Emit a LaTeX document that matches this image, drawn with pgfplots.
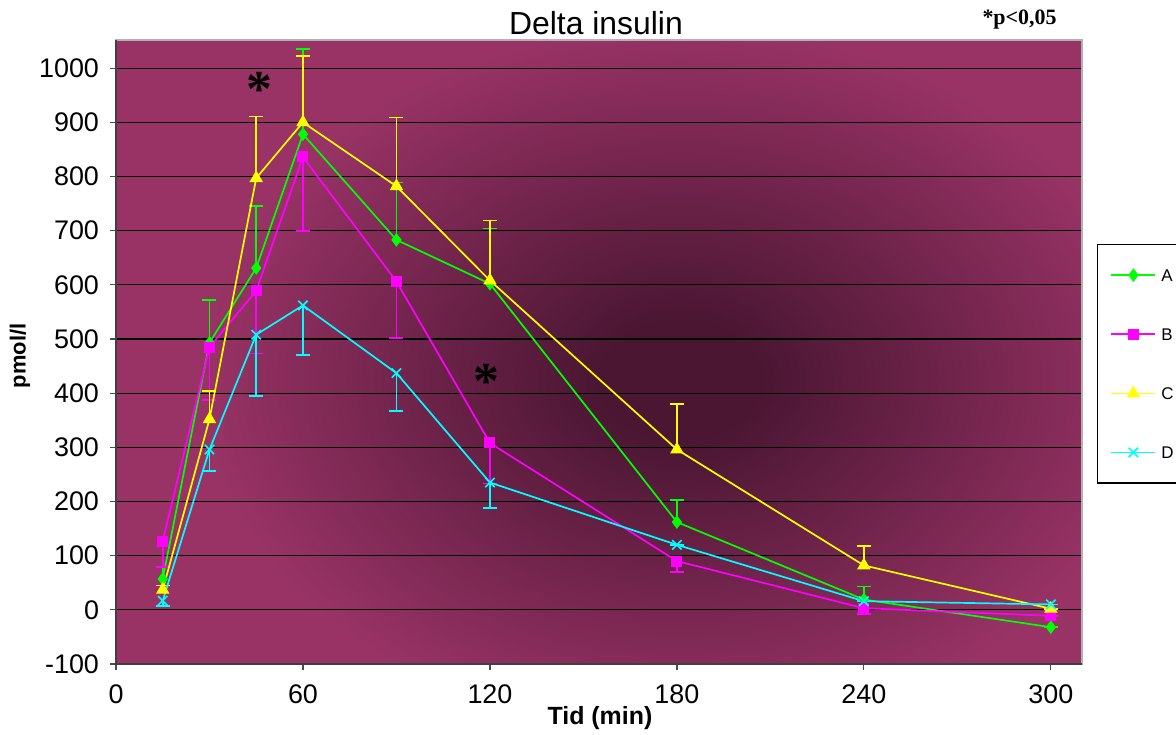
\documentclass[border=0pt]{standalone}
\usepackage{fontspec}
\setmainfont{Liberation Sans}
\newfontfamily\timesfont{Liberation Serif}
\usepackage{pgfplots}
\pgfplotsset{compat=1.18}
\usepackage{pgfplotstable}

\definecolor{bge}{HTML}{993366}
\definecolor{bgc}{HTML}{4A1632}
\definecolor{cA}{HTML}{00FF00}
\definecolor{cB}{HTML}{FF00FF}
\definecolor{cC}{HTML}{FFFF00}
\definecolor{cD}{HTML}{00FFFF}
\pgfdeclareradialshading{plotbg}{\pgfpoint{0bp}{0bp}}{color(0bp)=(bgc); color(4bp)=(bgc); color(25bp)=(bge); color(50bp)=(bge)}

\pgfplotstableread{
x y e
15 57 22
30 493 79
45 631 115
60 878 157
90 683 106
120 602 102
180 162 41
240 19 24
300 -32 0
}\tA
\pgfplotstableread{
x y e
15 127 48
30 485 98
45 589 116
60 836 137
90 606 104
120 308 75
180 90 20
240 3 11
300 -11 0
}\tB
\pgfplotstableread{
x y e
15 37 8
30 352 52
45 797 114
60 900 123
90 782 127
120 608 111
180 296 84
240 82 36
300 2 0
}\tC
\pgfplotstableread{
x y e
15 17 10
30 296 40
45 508 113
60 562 91
90 437 70
120 235 47
180 120 0
240 16 0
300 10 0
}\tD

\begin{document}
\begin{tikzpicture}
\useasboundingbox (0,0) rectangle (588bp,367.5bp);
\fill[white] (0,0) rectangle (588bp,367.5bp);
\begin{scope}
\clip (58bp,35.5bp) rectangle (541bp,347.5bp);
\fill[bge] (58bp,35.5bp) rectangle (541bp,347.5bp);
\shade[shading=plotbg] (100bp,0bp) rectangle (580bp,355bp);
\end{scope}
\begin{axis}[
  at={(58bp,35.5bp)}, anchor=south west,
  scale only axis, width=483bp, height=312bp,
  xmin=0, xmax=310, ymin=-100, ymax=1052,
  xtick={0,60,...,300}, ytick={-100,0,...,1000},
  ymajorgrids, grid style={black, line width=0.6bp},
  tick align=outside, xtick pos=bottom, ytick pos=left,
  major tick length=3bp,
  tick style={black!70, line width=0.6bp},
  axis line style={draw=gray!60, line width=0.8bp},
  ticklabel style={font=\fontsize{13.5}{13.5}\selectfont},
  yticklabel style={xshift=-2bp},
  xticklabel style={yshift=-4bp},
  /pgf/number format/assume math mode=true,
  /pgf/number format/1000 sep={},
  xlabel={Tid (min)},
  xlabel style={font=\bfseries\fontsize{12.5}{12.5}\selectfont, at={(axis description cs:0.501,-0.0865)}, anchor=center, inner sep=0pt},
  ylabel={pmol/l},
  ylabel style={font=\bfseries\fontsize{11}{11}\selectfont, at={(axis description cs:-0.0994,0.494)}, anchor=center, inner sep=0pt},
  legend style={at={(axis description cs:1.0155,0.673)}, anchor=north west, draw=black, line width=0.6bp, fill=white,
    font=\fontsize{8.5}{8.5}\selectfont, inner xsep=6.5bp, inner ysep=12bp, row sep=23bp, column sep=2.5bp,
    nodes={inner sep=0pt, text height=6.5bp, text depth=0pt}},
  legend cell align=left,
  legend image code/.code={\draw[mark repeat=2,mark phase=2,#1] plot coordinates {(0bp,0bp)(11bp,0bp)(22bp,0bp)};},
]
\addplot[cA, line width=0.85bp, mark=diamond*, mark size=3bp, mark options={fill=cA, draw=cA, line width=0.5bp},
  error bars/.cd, y dir=plus, y explicit, error bar style={cA, line width=0.85bp},
  error mark options={rotate=90, mark size=3.5bp, line width=0.85bp, cA}]
  table[x=x, y=y, y error=e]{\tA};
\addlegendentry{A}
\addplot[cB, line width=0.85bp, mark=square*, mark size=2.5bp, mark options={fill=cB, draw=cB, line width=0.5bp},
  error bars/.cd, y dir=minus, y explicit, error bar style={cB, line width=0.85bp},
  error mark options={rotate=90, mark size=3.5bp, line width=0.85bp, cB}]
  table[x=x, y=y, y error=e]{\tB};
\addlegendentry{B}
\addplot[cC, line width=0.85bp, mark=triangle*, mark size=3.4bp, mark options={fill=cC, draw=cC, line width=0.5bp},
  error bars/.cd, y dir=plus, y explicit, error bar style={cC, line width=0.85bp},
  error mark options={rotate=90, mark size=3.5bp, line width=0.85bp, cC}]
  table[x=x, y=y, y error=e]{\tC};
\addlegendentry{C}
\addplot[cD, line width=0.85bp, mark=x, mark size=3.3bp, mark options={draw=cD, line width=0.8bp},
  error bars/.cd, y dir=minus, y explicit, error bar style={cD, line width=0.85bp},
  error mark options={rotate=90, mark size=3.5bp, line width=0.85bp, cD}]
  table[x=x, y=y, y error=e]{\tD};
\addlegendentry{D}
\node[font=\timesfont\bfseries\fontsize{26}{26}\selectfont, inner sep=0pt, yshift=-3bp] at (axis cs:46,971) {*};
\node[font=\timesfont\bfseries\fontsize{26}{26}\selectfont, inner sep=0pt, yshift=-3bp] at (axis cs:119,432) {*};
\end{axis}
\draw[black!75, line width=0.8bp] (58bp,347.5bp) -- (58bp,35.5bp) -- (541bp,35.5bp);
\node[font=\fontsize{16}{16}\selectfont, inner sep=0pt] at (298bp,356bp) {Delta insulin};
\node[font=\timesfont\bfseries\fontsize{11}{11}\selectfont, inner sep=0pt] at (509.75bp,357.5bp) {*p<0,05};
\end{tikzpicture}
\end{document}
